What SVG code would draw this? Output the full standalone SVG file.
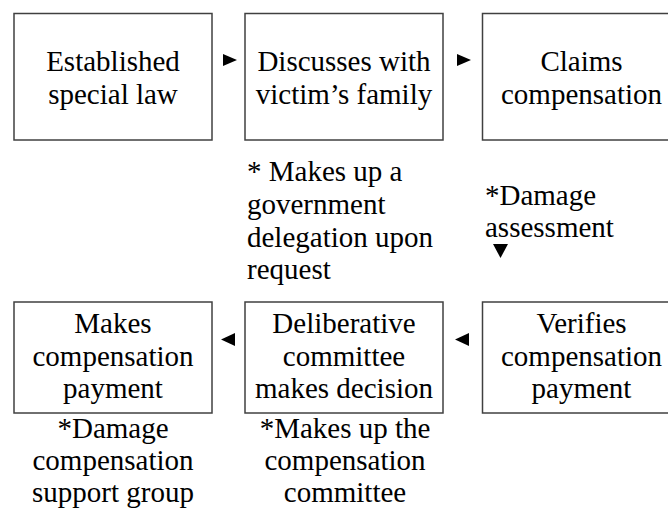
<svg xmlns="http://www.w3.org/2000/svg" width="668" height="508" viewBox="0 0 668 508">
<style>
.box{fill:#fff;stroke:#404040;stroke-width:1.5}
text{font-family:"Liberation Serif","Times New Roman",serif;font-size:29px;fill:#000}
.c{text-anchor:middle}
.arr{fill:#000}
</style>
<rect width="668" height="508" fill="#fff"/>
<g id="connectors">
<polygon class="arr" points="223,54 237,60 223,66"/>
<polygon class="arr" points="457,54 471,60 457,66"/>
<polygon class="arr" points="493,244 508,244 500.5,258"/>
<polygon class="arr" points="235,333 221,339.5 235,346"/>
<polygon class="arr" points="469,333 455,339.5 469,346"/>
</g>
<g id="n1">
<rect class="box" x="14" y="13.5" width="198" height="126.5"/>
<text class="c" x="113" y="71">Established</text>
<text class="c" x="113" y="104">special law</text>
</g>
<g id="n2">
<rect class="box" x="245" y="13.5" width="198" height="126.5"/>
<text class="c" x="344" y="71">Discusses with</text>
<text class="c" x="344" y="104">victim’s family</text>
</g>
<g id="n3">
<rect class="box" x="482.5" y="13.5" width="198" height="126.5"/>
<text class="c" x="581.5" y="71">Claims</text>
<text class="c" x="581.5" y="104">compensation</text>
</g>
<g id="note2">
<text x="247" y="181">* Makes up a</text>
<text x="247" y="214">government</text>
<text x="247" y="247">delegation upon</text>
<text x="247" y="279">request</text>
</g>
<g id="note3">
<text x="485" y="205">*Damage</text>
<text x="485" y="237">assessment</text>
</g>
<g id="n4">
<rect class="box" x="14" y="302" width="198" height="111"/>
<text class="c" x="113" y="333">Makes</text>
<text class="c" x="113" y="366">compensation</text>
<text class="c" x="113" y="398">payment</text>
</g>
<g id="note4">
<text class="c" x="113" y="438">*Damage</text>
<text class="c" x="113" y="470">compensation</text>
<text class="c" x="113" y="502">support group</text>
</g>
<g id="n5">
<rect class="box" x="245" y="302" width="198" height="111"/>
<text class="c" x="344" y="333">Deliberative</text>
<text class="c" x="344" y="366">committee</text>
<text class="c" x="344" y="398">makes decision</text>
</g>
<g id="note5">
<text class="c" x="345" y="438">*Makes up the</text>
<text class="c" x="345" y="470">compensation</text>
<text class="c" x="345" y="502">committee</text>
</g>
<g id="n6">
<rect class="box" x="482.5" y="302" width="198" height="111"/>
<text class="c" x="581.5" y="333">Verifies</text>
<text class="c" x="581.5" y="366">compensation</text>
<text class="c" x="581.5" y="398">payment</text>
</g>
</svg>
